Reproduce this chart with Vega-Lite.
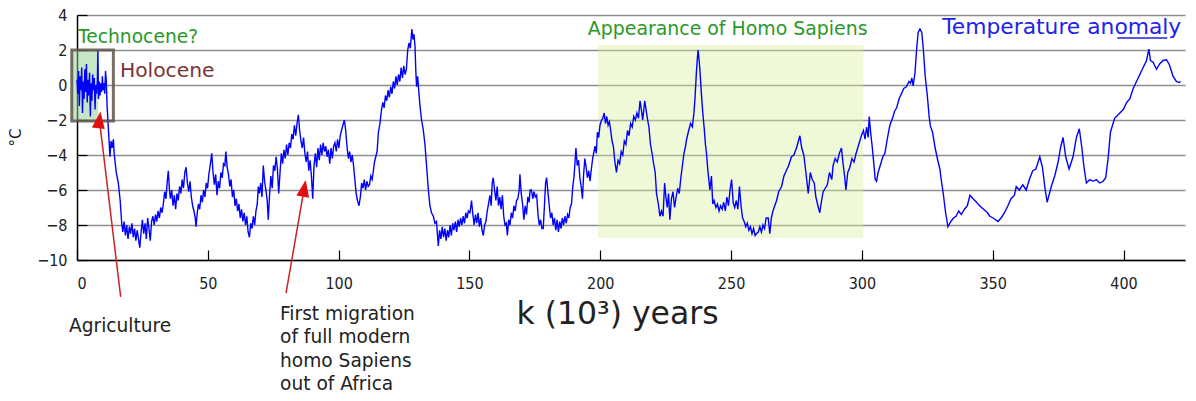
{
 "$schema": "https://vega.github.io/schema/vega-lite/v6.json",
 "width": 1108,
 "height": 245,
 "autosize": {"type": "none"},
 "padding": {"left": 77, "top": 15, "right": 11, "bottom": 141},
 "background": "white",
 "config": {"view": {"stroke": null}, "font": "DejaVu Sans"},
 "datasets": {
  "temp": [
   {"k":0,"t":0.3},{"k":0.3,"t":-0.5},{"k":0.6,"t":0.8},{"k":0.9,"t":-1.2},{"k":1.2,"t":0.5},{"k":1.5,"t":-0.3},{"k":1.8,"t":1.0},{"k":2.1,"t":-1.6},{"k":2.4,"t":0.2},{"k":2.7,"t":-0.8},{"k":3.0,"t":0.9},{"k":3.3,"t":-0.4},{"k":3.6,"t":1.2},{"k":3.9,"t":-1.0},{"k":4.2,"t":0.3},{"k":4.5,"t":-0.6},{"k":4.8,"t":0.7},{"k":5.1,"t":-1.8},{"k":5.4,"t":0.1},{"k":5.7,"t":-0.9},{"k":6.0,"t":0.6},{"k":6.3,"t":-0.3},{"k":6.6,"t":0.4},{"k":6.9,"t":-1.4},{"k":7.2,"t":0.0},{"k":7.5,"t":-0.5},{"k":7.8,"t":0.3},{"k":8.0,"t":2.0},{"k":8.2,"t":-0.8},{"k":8.5,"t":0.2},{"k":8.8,"t":-0.6},{"k":9.1,"t":0.1},{"k":9.4,"t":-0.4},{"k":9.7,"t":0.5},{"k":10.0,"t":-0.3},{"k":10.3,"t":0.1},{"k":10.6,"t":-0.5},{"k":10.9,"t":0.8},{"k":11.2,"t":0.2},{"k":11.5,"t":-1.2},{"k":12.0,"t":-2.5},{"k":12.6,"t":-4.1},{"k":13.0,"t":-3.2},{"k":13.4,"t":-3.6},{"k":13.9,"t":-3.1},{"k":14.2,"t":-3.9},{"k":15.0,"t":-5.0},{"k":15.8,"t":-5.6},{"k":16.5,"t":-6.6},{"k":17.1,"t":-7.9},
   {"k":17.5,"t":-8.4},{"k":18,"t":-7.8},{"k":18.5,"t":-8.6},{"k":19,"t":-8.0},{"k":19.5,"t":-8.8},{"k":20,"t":-8.1},{"k":20.5,"t":-8.5},{"k":21,"t":-7.9},{"k":21.5,"t":-8.7},{"k":22,"t":-8.2},{"k":22.5,"t":-8.9},{"k":23,"t":-8.3},{"k":23.5,"t":-8.8},{"k":24,"t":-9.3},{"k":24.5,"t":-8.4},{"k":25,"t":-7.7},{"k":25.5,"t":-8.5},{"k":26,"t":-7.9},{"k":26.5,"t":-8.8},{"k":27,"t":-7.6},{"k":27.5,"t":-8.2},{"k":28,"t":-8.9},{"k":28.5,"t":-7.8},{"k":29,"t":-7.5},{"k":29.5,"t":-8.0},{"k":30,"t":-7.4},{"k":30.5,"t":-7.8},{"k":31,"t":-7.2},{"k":31.5,"t":-7.6},{"k":32,"t":-7.0},{"k":32.5,"t":-7.3},{"k":33,"t":-6.8},{"k":33.5,"t":-6.1},{"k":34,"t":-6.5},{"k":34.5,"t":-5.5},{"k":34.9,"t":-4.9},{"k":35.3,"t":-5.9},{"k":35.7,"t":-6.5},{"k":36.2,"t":-6.0},{"k":36.7,"t":-6.9},{"k":37.2,"t":-6.3},{"k":37.7,"t":-7.1},{"k":38.2,"t":-6.2},{"k":38.7,"t":-6.6},{"k":39.2,"t":-5.8},{"k":39.7,"t":-6.2},{"k":40.2,"t":-5.4},{"k":40.7,"t":-5.9},{"k":41.2,"t":-5.0},{"k":41.7,"t":-4.7},{"k":42.2,"t":-5.6},{"k":42.7,"t":-6.1},{"k":43.2,"t":-5.5},{"k":43.7,"t":-6.4},{"k":44.2,"t":-6.9},{"k":44.7,"t":-7.2},{"k":45.2,"t":-7.6},{"k":45.5,"t":-8.1},{"k":45.9,"t":-7.4},{"k":46.4,"t":-6.8},{"k":46.9,"t":-7.1},{"k":47.4,"t":-6.3},{"k":47.9,"t":-6.7},{"k":48.4,"t":-6.0},{"k":48.9,"t":-6.4},{"k":49.4,"t":-5.6},{"k":49.9,"t":-5.9},{"k":50.4,"t":-5.1},{"k":50.9,"t":-4.6},{"k":51.5,"t":-3.9},{"k":52.0,"t":-5.0},{"k":52.5,"t":-5.7},{"k":53.0,"t":-5.1},{"k":53.5,"t":-6.3},{"k":54.0,"t":-5.5},{"k":54.5,"t":-5.9},{"k":55.0,"t":-5.0},{"k":55.5,"t":-5.3},{"k":56.0,"t":-4.5},{"k":56.5,"t":-4.6},{"k":56.9,"t":-3.8},{"k":57.4,"t":-4.7},{"k":57.9,"t":-5.1},{"k":58.4,"t":-5.8},{"k":58.9,"t":-5.4},{"k":59.4,"t":-6.4},{"k":59.9,"t":-6.0},{"k":60.4,"t":-6.9},{"k":60.9,"t":-6.5},{"k":61.4,"t":-7.2},{"k":61.9,"t":-6.8},{"k":62.4,"t":-7.6},{"k":62.9,"t":-7.1},{"k":63.4,"t":-7.8},{"k":63.9,"t":-7.3},{"k":64.4,"t":-8.0},{"k":64.9,"t":-7.5},{"k":65.4,"t":-8.4},{"k":65.9,"t":-8.7},{"k":66.4,"t":-7.9},{"k":66.9,"t":-8.2},{"k":67.4,"t":-7.5},{"k":67.9,"t":-8.0},{"k":68.4,"t":-7.2},{"k":68.9,"t":-6.8},{"k":69.3,"t":-5.8},{"k":69.7,"t":-6.2},{"k":70.2,"t":-5.6},{"k":70.7,"t":-6.4},{"k":71.2,"t":-4.6},{"k":71.7,"t":-5.5},{"k":72.2,"t":-6.0},{"k":72.7,"t":-6.6},{"k":73.1,"t":-7.7},{"k":73.6,"t":-6.3},{"k":74.1,"t":-5.2},{"k":74.6,"t":-5.9},{"k":75.1,"t":-4.6},{"k":75.6,"t":-4.9},{"k":76.1,"t":-4.1},{"k":76.6,"t":-4.8},{"k":77.1,"t":-6.2},{"k":77.6,"t":-5.0},{"k":78.1,"t":-3.9},{"k":78.6,"t":-4.5},{"k":79.1,"t":-3.7},{"k":79.6,"t":-4.2},{"k":80.1,"t":-3.4},{"k":80.6,"t":-4.0},{"k":81.1,"t":-3.3},{"k":81.6,"t":-3.6},{"k":82.1,"t":-2.8},{"k":82.6,"t":-3.1},{"k":83.1,"t":-2.3},{"k":83.6,"t":-2.9},{"k":84.1,"t":-2.2},{"k":84.6,"t":-1.7},{"k":85.1,"t":-2.6},{"k":85.6,"t":-3.2},{"k":86.1,"t":-3.6},{"k":86.6,"t":-3.0},{"k":87.1,"t":-3.9},{"k":87.6,"t":-4.4},{"k":88.1,"t":-3.8},{"k":88.6,"t":-4.9},{"k":89.1,"t":-4.3},{"k":89.6,"t":-5.2},{"k":90.1,"t":-6.5},{"k":90.6,"t":-4.6},{"k":91.1,"t":-3.9},{"k":91.6,"t":-4.7},{"k":92.1,"t":-3.6},{"k":92.6,"t":-4.3},{"k":93.1,"t":-3.4},{"k":93.6,"t":-4.0},{"k":94.1,"t":-3.3},{"k":94.6,"t":-3.8},{"k":95.1,"t":-3.5},{"k":95.6,"t":-4.1},{"k":96.1,"t":-3.7},{"k":96.6,"t":-4.5},{"k":97.1,"t":-3.6},{"k":97.6,"t":-4.2},{"k":98.1,"t":-3.5},{"k":98.6,"t":-3.3},{"k":99.1,"t":-3.8},{"k":99.6,"t":-3.1},{"k":100.1,"t":-3.6},{"k":100.6,"t":-2.9},{"k":101.1,"t":-2.6},{"k":101.6,"t":-2.3},{"k":102.2,"t":-2.0},{"k":102.7,"t":-2.6},{"k":103.2,"t":-3.5},{"k":103.7,"t":-4.2},{"k":104.2,"t":-3.8},{"k":104.7,"t":-4.4},{"k":105.2,"t":-4.0},{"k":105.7,"t":-4.6},{"k":106.2,"t":-5.4},{"k":106.7,"t":-6.2},{"k":107.2,"t":-6.6},{"k":107.8,"t":-6.9},{"k":108.3,"t":-6.4},{"k":108.8,"t":-5.6},{"k":109.3,"t":-5.9},{"k":109.8,"t":-5.4},{"k":110.3,"t":-6.0},{"k":110.8,"t":-5.5},{"k":111.3,"t":-5.8},{"k":111.8,"t":-5.7},{"k":112.3,"t":-5.2},{"k":112.8,"t":-5.4},{"k":113.2,"t":-5.0},{"k":113.7,"t":-4.4},{"k":114.2,"t":-4.1},{"k":114.7,"t":-3.8},{"k":115.2,"t":-2.7},{"k":115.8,"t":-2.2},{"k":116.4,"t":-1.4},{"k":116.9,"t":-1.0},{"k":117.4,"t":-1.3},{"k":117.9,"t":-0.6},{"k":118.4,"t":-0.9},{"k":118.9,"t":-0.3},{"k":119.4,"t":-0.7},{"k":119.9,"t":-0.1},{"k":120.4,"t":-0.5},{"k":120.9,"t":0.2},{"k":121.4,"t":-0.2},{"k":121.9,"t":0.5},{"k":122.4,"t":0.0},{"k":122.9,"t":0.6},{"k":123.4,"t":0.2},{"k":123.9,"t":1.0},{"k":124.4,"t":0.4},{"k":124.9,"t":1.1},{"k":125.4,"t":0.6},{"k":125.9,"t":0.9},{"k":126.4,"t":2.0},{"k":126.9,"t":2.4},{"k":127.4,"t":2.1},{"k":128.0,"t":3.2},{"k":128.4,"t":2.6},{"k":128.8,"t":2.9},{"k":129.2,"t":2.2},{"k":129.5,"t":0.8},{"k":129.8,"t":-0.1},{"k":130.2,"t":0.5},{"k":130.6,"t":-0.3},{"k":131.1,"t":-1.2},{"k":131.7,"t":-2.0},{"k":132.3,"t":-2.5},{"k":133.0,"t":-3.4},{"k":133.6,"t":-4.6},{"k":134.3,"t":-6.0},{"k":134.9,"t":-6.9},{"k":135.5,"t":-7.3},{"k":136.2,"t":-7.5},{"k":136.8,"t":-7.9},{"k":137.4,"t":-7.8},{"k":138.1,"t":-9.2},{"k":138.6,"t":-8.3},{"k":139.1,"t":-8.8},{"k":139.6,"t":-8.1},{"k":140.1,"t":-8.7},{"k":140.6,"t":-8.2},{"k":141.1,"t":-8.9},{"k":141.6,"t":-8.3},{"k":142.1,"t":-8.7},{"k":142.6,"t":-8.0},{"k":143.1,"t":-8.6},{"k":143.6,"t":-7.9},{"k":144.1,"t":-8.3},{"k":144.6,"t":-7.8},{"k":145.1,"t":-8.4},{"k":145.6,"t":-7.7},{"k":146.1,"t":-8.1},{"k":146.6,"t":-7.6},{"k":147.1,"t":-8.0},{"k":147.6,"t":-7.5},{"k":148.1,"t":-7.9},{"k":148.6,"t":-7.3},{"k":149.1,"t":-7.6},{"k":149.6,"t":-7.2},{"k":150.2,"t":-7.3},{"k":150.8,"t":-6.6},{"k":151.3,"t":-7.4},{"k":151.8,"t":-8.0},{"k":152.3,"t":-7.4},{"k":152.8,"t":-7.9},{"k":153.3,"t":-7.3},{"k":153.8,"t":-8.1},{"k":154.3,"t":-7.6},{"k":154.8,"t":-8.3},{"k":155.3,"t":-8.6},{"k":155.8,"t":-8.0},{"k":156.3,"t":-7.8},{"k":156.8,"t":-7.2},{"k":157.3,"t":-6.8},{"k":157.8,"t":-6.3},{"k":158.3,"t":-6.9},{"k":158.7,"t":-5.6},{"k":159.1,"t":-5.3},{"k":159.6,"t":-6.0},{"k":160.1,"t":-6.6},{"k":160.6,"t":-5.8},{"k":161.1,"t":-6.9},{"k":161.6,"t":-6.4},{"k":162.1,"t":-7.1},{"k":162.6,"t":-6.3},{"k":163.1,"t":-7.5},{"k":163.6,"t":-8.0},{"k":164.1,"t":-7.9},{"k":164.5,"t":-8.6},{"k":165.0,"t":-7.7},{"k":165.5,"t":-8.0},{"k":166.0,"t":-7.3},{"k":166.5,"t":-7.6},{"k":167.0,"t":-6.9},{"k":167.5,"t":-7.2},{"k":168.0,"t":-6.6},{"k":168.5,"t":-6.5},{"k":169.0,"t":-6.0},{"k":169.3,"t":-5.1},{"k":169.8,"t":-6.2},{"k":170.3,"t":-6.8},{"k":170.8,"t":-7.7},{"k":171.3,"t":-6.9},{"k":171.8,"t":-7.4},{"k":172.3,"t":-6.4},{"k":172.8,"t":-6.7},{"k":173.2,"t":-6.0},{"k":173.7,"t":-6.0},{"k":174.2,"t":-6.5},{"k":174.7,"t":-6.1},{"k":175.2,"t":-6.4},{"k":175.7,"t":-6.3},{"k":176.2,"t":-7.4},{"k":176.7,"t":-8.0},{"k":177.2,"t":-7.7},{"k":177.7,"t":-8.2},{"k":178.2,"t":-8.2},{"k":178.7,"t":-6.8},{"k":179.1,"t":-5.6},{"k":179.5,"t":-5.3},{"k":180.0,"t":-6.1},{"k":180.5,"t":-6.9},{"k":181.0,"t":-7.6},{"k":181.5,"t":-7.3},{"k":182.0,"t":-8.0},{"k":182.5,"t":-7.6},{"k":183.0,"t":-8.3},{"k":183.5,"t":-7.7},{"k":184.0,"t":-8.4},{"k":184.5,"t":-7.8},{"k":185.0,"t":-8.2},{"k":185.5,"t":-7.6},{"k":186.0,"t":-8.0},{"k":186.5,"t":-7.5},{"k":187.0,"t":-7.9},{"k":187.5,"t":-7.4},{"k":188.0,"t":-7.6},{"k":188.5,"t":-7.0},{"k":189.0,"t":-6.8},{"k":189.5,"t":-5.8},{"k":190.0,"t":-5.2},{"k":190.7,"t":-3.6},{"k":191.2,"t":-4.6},{"k":191.7,"t":-4.3},{"k":192.2,"t":-5.3},{"k":192.7,"t":-5.8},{"k":193.2,"t":-6.5},{"k":193.6,"t":-5.2},{"k":194.1,"t":-4.2},{"k":194.6,"t":-4.7},{"k":195.1,"t":-5.3},{"k":195.6,"t":-4.9},{"k":196.1,"t":-5.5},{"k":196.6,"t":-4.8},{"k":197.1,"t":-4.2},{"k":197.6,"t":-3.8},{"k":198.0,"t":-3.5},{"k":198.5,"t":-3.9},{"k":198.9,"t":-2.7},{"k":199.4,"t":-3.0},{"k":199.9,"t":-2.3},{"k":200.5,"t":-2.0},{"k":201.0,"t":-1.9},{"k":201.5,"t":-1.6},{"k":202.0,"t":-2.2},{"k":202.5,"t":-1.8},{"k":203.0,"t":-2.3},{"k":203.5,"t":-2.1},{"k":204.0,"t":-2.6},{"k":204.5,"t":-3.2},{"k":205.0,"t":-3.5},{"k":205.6,"t":-4.4},{"k":206.2,"t":-5.0},{"k":206.8,"t":-4.3},{"k":207.4,"t":-4.5},{"k":208.0,"t":-3.8},{"k":208.6,"t":-4.0},{"k":209.2,"t":-3.2},{"k":209.8,"t":-3.4},{"k":210.4,"t":-2.6},{"k":211.0,"t":-2.9},{"k":211.6,"t":-2.2},{"k":212.2,"t":-2.4},{"k":212.8,"t":-1.8},{"k":213.4,"t":-2.0},{"k":214.0,"t":-1.6},{"k":214.6,"t":-1.9},{"k":215.2,"t":-0.9},{"k":215.8,"t":-1.5},{"k":216.2,"t":-2.0},{"k":216.6,"t":-1.5},{"k":217.0,"t":-0.9},{"k":217.5,"t":-1.4},{"k":218.0,"t":-1.9},{"k":218.6,"t":-2.4},{"k":219.2,"t":-3.4},{"k":219.8,"t":-3.9},{"k":220.4,"t":-4.5},{"k":221.0,"t":-5.0},{"k":221.5,"t":-6.2},{"k":222.2,"t":-6.8},{"k":222.8,"t":-7.5},{"k":223.4,"t":-7.2},{"k":224.0,"t":-7.5},{"k":224.6,"t":-5.6},{"k":225.1,"t":-6.4},{"k":225.6,"t":-7.0},{"k":226.1,"t":-6.2},{"k":226.6,"t":-7.7},{"k":227.2,"t":-6.5},{"k":227.8,"t":-6.1},{"k":228.4,"t":-7.0},{"k":229.0,"t":-6.4},{"k":229.6,"t":-5.9},{"k":230.2,"t":-6.2},{"k":230.8,"t":-5.3},{"k":231.4,"t":-4.6},{"k":232.0,"t":-3.9},{"k":232.6,"t":-3.5},{"k":233.0,"t":-3.1},{"k":233.8,"t":-2.6},{"k":234.5,"t":-2.2},{"k":235.2,"t":-2.4},{"k":235.8,"t":-1.6},{"k":236.2,"t":-0.8},{"k":236.7,"t":0.6},{"k":237.1,"t":1.5},{"k":237.4,"t":2.0},{"k":237.8,"t":1.4},{"k":238.2,"t":0.6},{"k":238.7,"t":-0.6},{"k":239.2,"t":-1.6},{"k":239.8,"t":-2.6},{"k":240.2,"t":-3.4},{"k":240.6,"t":-3.9},{"k":241.2,"t":-5.0},{"k":241.9,"t":-6.0},{"k":242.5,"t":-5.2},{"k":243.0,"t":-6.8},{"k":243.5,"t":-6.6},{"k":244.2,"t":-7.0},{"k":244.8,"t":-6.8},{"k":245.4,"t":-7.2},{"k":246.0,"t":-6.9},{"k":246.6,"t":-7.1},{"k":247.2,"t":-6.7},{"k":247.8,"t":-7.2},{"k":248.4,"t":-6.4},{"k":249.0,"t":-6.9},{"k":249.6,"t":-6.0},{"k":250.2,"t":-5.4},{"k":250.8,"t":-6.7},{"k":251.4,"t":-7.0},{"k":252.0,"t":-6.6},{"k":252.6,"t":-7.1},{"k":253.2,"t":-5.8},{"k":253.8,"t":-6.9},{"k":254.4,"t":-7.6},{"k":255.0,"t":-7.8},{"k":255.6,"t":-8.1},{"k":256.2,"t":-7.9},{"k":256.8,"t":-8.3},{"k":257.4,"t":-8.1},{"k":258.0,"t":-8.5},{"k":258.6,"t":-8.2},{"k":259.2,"t":-8.6},{"k":259.7,"t":-8.5},{"k":260.4,"t":-8.4},{"k":261.0,"t":-8.1},{"k":261.6,"t":-8.4},{"k":262.2,"t":-8.0},{"k":262.8,"t":-8.2},{"k":263.4,"t":-7.6},{"k":264.2,"t":-7.6},{"k":264.8,"t":-8.5},{"k":265.4,"t":-7.6},{"k":266.0,"t":-7.2},{"k":266.7,"t":-6.9},{"k":267.4,"t":-6.6},{"k":268.2,"t":-6.1},{"k":269.3,"t":-5.8},{"k":270.2,"t":-5.2},{"k":271.1,"t":-4.9},{"k":272.0,"t":-4.6},{"k":273.1,"t":-4.1},{"k":274.0,"t":-4.0},{"k":275.0,"t":-3.6},{"k":276.3,"t":-2.9},{"k":277.0,"t":-3.6},{"k":277.8,"t":-4.0},{"k":278.6,"t":-5.0},{"k":279.5,"t":-6.2},{"k":280.3,"t":-5.0},{"k":281.0,"t":-5.4},{"k":281.8,"t":-5.6},{"k":282.4,"t":-6.4},{"k":283.2,"t":-6.9},{"k":283.9,"t":-7.3},{"k":284.6,"t":-6.6},{"k":285.2,"t":-6.1},{"k":286.0,"t":-5.9},{"k":286.8,"t":-5.7},{"k":287.6,"t":-5.0},{"k":288.5,"t":-5.4},{"k":289.0,"t":-4.6},{"k":289.8,"t":-4.2},{"k":290.6,"t":-4.4},{"k":291.4,"t":-3.9},{"k":292.2,"t":-3.6},{"k":292.8,"t":-4.5},{"k":293.4,"t":-5.2},{"k":293.9,"t":-6.0},{"k":294.6,"t":-5.0},{"k":295.4,"t":-4.7},{"k":296.2,"t":-4.2},{"k":297.0,"t":-4.4},{"k":297.8,"t":-3.9},{"k":298.4,"t":-3.6},{"k":299.0,"t":-3.3},{"k":299.8,"t":-2.9},{"k":300.6,"t":-2.6},{"k":301.2,"t":-3.1},{"k":301.8,"t":-2.4},{"k":302.4,"t":-3.0},{"k":302.8,"t":-1.8},{"k":303.4,"t":-2.8},{"k":304.0,"t":-3.6},{"k":304.5,"t":-4.4},{"k":305.1,"t":-5.4},{"k":305.6,"t":-5.5},{"k":306.2,"t":-5.0},{"k":307.0,"t":-4.6},{"k":308.0,"t":-4.1},{"k":308.8,"t":-3.9},{"k":309.8,"t":-3.0},{"k":310.7,"t":-2.3},{"k":311.7,"t":-1.9},{"k":312.5,"t":-1.5},{"k":313.3,"t":-1.3},{"k":314.2,"t":-0.8},{"k":315.1,"t":-0.5},{"k":316.0,"t":-0.2},{"k":317.0,"t":-0.1},{"k":318.0,"t":0.2},{"k":318.6,"t":0.1},{"k":319.1,"t":0.4},{"k":319.6,"t":-0.05},{"k":320.3,"t":0.7},{"k":320.9,"t":2.0},{"k":321.5,"t":3.0},{"k":322.2,"t":3.2},{"k":322.9,"t":3.0},{"k":323.5,"t":2.0},{"k":324.2,"t":0.5},{"k":325.0,"t":-0.6},{"k":325.7,"t":-1.8},{"k":326.2,"t":-2.35},{"k":327.0,"t":-2.7},{"k":328.0,"t":-3.6},{"k":329.0,"t":-4.3},{"k":329.8,"t":-4.8},{"k":330.5,"t":-5.6},{"k":331.1,"t":-6.2},{"k":332.0,"t":-7.3},{"k":332.9,"t":-8.1},{"k":334.0,"t":-7.8},{"k":335.0,"t":-7.6},{"k":336.0,"t":-7.5},{"k":337.0,"t":-7.2},{"k":338.0,"t":-7.4},{"k":339.2,"t":-7.1},{"k":340.3,"t":-6.9},{"k":341.3,"t":-6.3},{"k":342.5,"t":-6.5},{"k":343.8,"t":-6.7},{"k":345.0,"t":-6.9},{"k":346.5,"t":-7.1},{"k":348.0,"t":-7.3},{"k":348.9,"t":-7.5},{"k":350.2,"t":-7.6},{"k":352.0,"t":-7.8},{"k":353.2,"t":-7.6},{"k":354.5,"t":-7.3},{"k":355.8,"t":-6.9},{"k":357.0,"t":-6.5},{"k":358.3,"t":-6.3},{"k":359.0,"t":-5.8},{"k":360.2,"t":-6.0},{"k":361.5,"t":-5.7},{"k":362.8,"t":-6.0},{"k":364.0,"t":-5.4},{"k":365.3,"t":-4.9},{"k":366.5,"t":-4.8},{"k":368.0,"t":-4.1},{"k":369.0,"t":-4.7},{"k":369.9,"t":-5.8},{"k":370.8,"t":-6.7},{"k":372.4,"t":-5.8},{"k":373.7,"t":-5.2},{"k":375.0,"t":-4.4},{"k":375.9,"t":-3.6},{"k":376.9,"t":-3.0},{"k":377.9,"t":-4.1},{"k":379.2,"t":-4.8},{"k":380.7,"t":-4.1},{"k":382.0,"t":-3.0},{"k":383.1,"t":-2.5},{"k":384.0,"t":-3.5},{"k":384.9,"t":-4.7},{"k":385.8,"t":-5.6},{"k":387.1,"t":-5.4},{"k":388.4,"t":-5.5},{"k":389.6,"t":-5.4},{"k":390.9,"t":-5.6},{"k":392.2,"t":-5.5},{"k":393.2,"t":-5.3},{"k":394.1,"t":-4.2},{"k":395.0,"t":-2.7},{"k":396.6,"t":-1.9},{"k":398.6,"t":-1.6},{"k":399.9,"t":-1.4},{"k":401.2,"t":-1.0},{"k":402.4,"t":-0.8},{"k":403.7,"t":-0.2},{"k":405.6,"t":0.4},{"k":407.5,"t":1.0},{"k":408.8,"t":1.4},{"k":409.7,"t":2.05},{"k":410.3,"t":1.4},{"k":411.3,"t":1.3},{"k":412.6,"t":0.9},{"k":413.8,"t":1.2},{"k":415.1,"t":1.4},{"k":416.4,"t":1.44},{"k":417.4,"t":1.2},{"k":418.3,"t":0.8},{"k":418.9,"t":0.5},{"k":420.2,"t":0.2},{"k":421.3,"t":0.14},{"k":421.8,"t":0.2}
  ]
 },
 "encoding": {
  "x": {"field": "k", "type": "quantitative",
   "scale": {"domain": [0, 423.5], "nice": false, "zero": false},
   "axis": {"values": [0, 50, 100, 150, 200, 250, 300, 350, 400], "grid": false,
    "domainColor": "#000000", "domainWidth": 1.5, "tickColor": "#000000", "tickSize": -10, "tickWidth": 1.2,
    "labelFont": "DejaVu Sans Condensed", "labelFontSize": 16, "labelColor": "#222222", "labelPadding": 25,
    "title": "k (10³) years", "titleFont": "DejaVu Sans", "titleFontSize": 31.5, "titleFontWeight": "normal",
    "titleColor": "#222222", "titleX": 540, "titleY": 63, "titleBaseline": "alphabetic", "titleAlign": "center"}},
  "y": {"field": "t", "type": "quantitative",
   "scale": {"domain": [-10, 4], "nice": false, "zero": false},
   "axis": {"values": [-10, -8, -6, -4, -2, 0, 2, 4], "grid": true, "gridColor": "#8e8e8e", "gridWidth": 1.6,
    "domainColor": "#000000", "domainWidth": 1.5, "tickColor": "#000000", "tickSize": -10, "tickWidth": 1.2,
    "labelFont": "DejaVu Sans Condensed", "labelFontSize": 16, "labelColor": "#222222", "labelPadding": 20,
    "title": "°C", "titleFont": "DejaVu Sans", "titleFontSize": 15, "titleFontWeight": "normal", "titleColor": "#222222",
    "titleAngle": -90, "titleX": -62, "titleY": 122, "titleBaseline": "middle", "titleAlign": "center"}}
 },
 "layer": [
  {"data": {"values": [{"k": 199.2, "k2": 300.5, "t": 2.29, "t2": -8.74}]},
   "mark": {"type": "rect", "fill": "#d8ee9a", "opacity": 0.4},
   "encoding": {"x2": {"field": "k2"}, "y2": {"field": "t2"}}},
  {"data": {"values": [{"k": -2.0, "k2": 8.1, "t": 2.0, "t2": -2.05}]},
   "mark": {"type": "rect", "fill": "#8fcc8f", "opacity": 0.5, "clip": false},
   "encoding": {"x2": {"field": "k2"}, "y2": {"field": "t2"}}},
  {"data": {"name": "temp"},
   "mark": {"type": "line", "color": "#0000ff", "strokeWidth": 1.4}},
  {"data": {"values": [{"k": -2.0, "k2": 13.9, "t": 2.0, "t2": -2.05}]},
   "mark": {"type": "rect", "fill": null, "fillOpacity": 0, "stroke": "#5e554a", "strokeWidth": 3, "strokeOpacity": 0.85, "clip": false},
   "encoding": {"x2": {"field": "k2"}, "y2": {"field": "t2"}}},
  {"data": {"values": [{"k": 16.7, "t": -12.11, "k2": 8.56, "t2": -1.99}, {"k": 79.9, "t": -11.89, "k2": 86.85, "t2": -5.9}]},
   "mark": {"type": "rule", "color": "#cc2222", "strokeWidth": 1.5, "clip": false},
   "encoding": {"x2": {"field": "k2"}, "y2": {"field": "t2"}}},
  {"data": {"values": [{"k": 8.56, "t": -1.99}]},
   "mark": {"type": "point", "shape": "M0,-1L0.76,1L-0.76,1Z", "filled": true, "color": "#e01010", "opacity": 1, "size": 289, "angle": 7}},
  {"data": {"values": [{"k": 86.85, "t": -5.9}]},
   "mark": {"type": "point", "shape": "M0,-1L0.76,1L-0.76,1Z", "filled": true, "color": "#e01010", "opacity": 1, "size": 289, "angle": 10}},
  {"data": {"values": [{"k": 0.38, "t": 2.4, "label": "Technocene?"}]},
   "mark": {"type": "text", "align": "left", "baseline": "alphabetic", "font": "DejaVu Sans", "fontSize": 18.7, "color": "#2a982a"},
   "encoding": {"text": {"field": "label"}}},
  {"data": {"values": [{"k": 16.4, "t": 0.457, "label": "Holocene"}]},
   "mark": {"type": "text", "align": "left", "baseline": "alphabetic", "font": "DejaVu Sans", "fontSize": 20.3, "color": "#7b3333"},
   "encoding": {"text": {"field": "label"}}},
  {"data": {"values": [{"k": 248.7, "t": 2.857, "label": "Appearance of Homo Sapiens"}]},
   "mark": {"type": "text", "align": "center", "baseline": "alphabetic", "font": "DejaVu Sans", "fontSize": 18.9, "color": "#2a982a"},
   "encoding": {"text": {"field": "label"}}},
  {"data": {"values": [{"k": 330.7, "t": 2.897, "label": "Temperature anomaly"}]},
   "mark": {"type": "text", "align": "left", "baseline": "alphabetic", "font": "DejaVu Sans", "fontSize": 21.8, "color": "#2222ee"},
   "encoding": {"text": {"field": "label"}}},
  {"data": {"values": [{"k": 397.6, "k2": 416.7, "t": 2.686}]},
   "mark": {"type": "rule", "color": "#2222ee", "strokeWidth": 1.5},
   "encoding": {"x2": {"field": "k2"}}},
  {"data": {"values": [{"k": -3.06, "t": -14.1, "label": "Agriculture"}]},
   "mark": {"type": "text", "align": "left", "baseline": "alphabetic", "font": "DejaVu Sans", "fontSize": 18.6, "color": "#222222"},
   "encoding": {"text": {"field": "label"}}},
  {"data": {"values": [{"k": 77.6, "t": -13.43, "label": ["First migration", "of full modern", "homo Sapiens", "out of Africa"]}]},
   "mark": {"type": "text", "align": "left", "baseline": "alphabetic", "font": "DejaVu Sans", "fontSize": 18.6, "lineHeight": 23.3, "color": "#222222"},
   "encoding": {"text": {"field": "label"}}}
 ]
}
